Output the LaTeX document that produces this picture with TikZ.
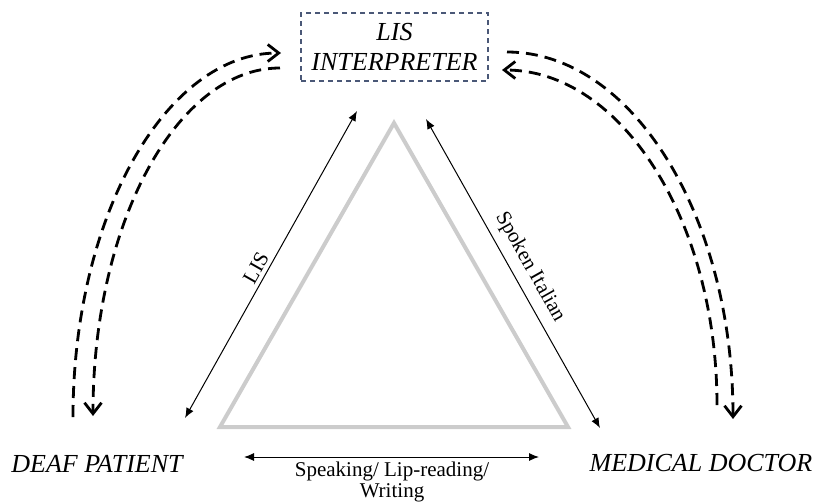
\documentclass[tikz,border=0pt]{standalone}
\usepackage{fontspec}
\setmainfont{Liberation Serif}
\usetikzlibrary{arrows.meta}
\definecolor{boxblue}{HTML}{4A5877}
\begin{document}
\begin{tikzpicture}[x=1pt, y=-1pt,
role/.style={font=\fontsize{26}{30}\selectfont\itshape, inner sep=0pt},
interp/.style={role, draw=boxblue, dash pattern=on 5pt off 4pt, line width=1.1pt, minimum width=187pt, minimum height=68pt, align=center},
tri/.style={draw=gray!40, line width=4pt, line join=miter},
link/.style={{Latex[length=10pt,width=8pt]}-{Latex[length=10pt,width=8pt]}, line width=1pt},
lbl/.style={font=\fontsize{21}{21}\selectfont, inner sep=0pt},
relay/.style={-{Straight Barb[length=11pt,width=17pt]}, line width=2.8pt, dash pattern=on 12pt off 7pt},
]
\useasboundingbox (0,0) rectangle (815,504);
\node[interp] (I) at (394.5,47) {LIS\\INTERPRETER};
\node[role] (P) at (97,464) {DEAF PATIENT};
\node[role] (D) at (701,463) {MEDICAL DOCTOR};
\coordinate (A) at (394,123);
\coordinate (B) at (220,427);
\coordinate (C) at (568,427);
\draw[tri] (A) -- (B) -- (C) -- cycle;
\coordinate (lisP) at (185,418);
\coordinate (lisI) at (357,111);
\coordinate (itaI) at (426,119);
\coordinate (itaD) at (600,428);
\coordinate (spkP) at (244,457);
\coordinate (spkD) at (539,457);
\draw[link] (lisP) -- (lisI);
\draw[link] (itaI) -- (itaD);
\draw[link] (spkP) -- (spkD);
\node[lbl, rotate=60.4] (lis) at (256,268) {LIS};
\node[lbl, rotate=-60.6] (ita) at (530,267) {Spoken Italian};
\node[lbl, align=center, anchor=north] (spk) at (392,462) {Speaking/ Lip-reading/\\Writing};
\coordinate (pl) at (73,417);
\coordinate (il) at (281,53);
\coordinate (il2) at (280,68);
\coordinate (pl2) at (93,416);
\coordinate (ir) at (507,52);
\coordinate (dr) at (733,419);
\coordinate (dr2) at (717,405);
\coordinate (ir2) at (502,70);
\draw[relay] (pl) .. controls (73,216) and (166,53) .. (il);
\draw[relay] (il2) .. controls (177,68) and (93,223) .. (pl2);
\draw[relay] (ir) .. controls (632,52) and (733,216) .. (dr);
\draw[relay] (dr2) .. controls (717,220) and (621,70) .. (ir2);
\end{tikzpicture}
\end{document}
